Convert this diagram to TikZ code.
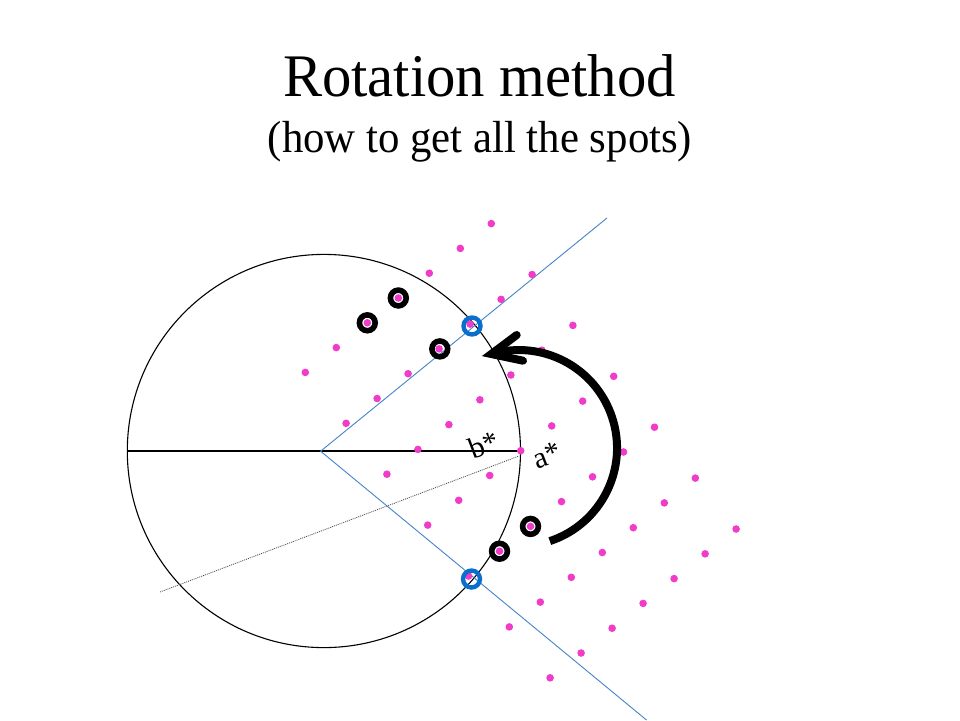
\documentclass[tikz,border=0pt]{standalone}
\usepackage{fontspec}
\setmainfont{Liberation Serif}
\definecolor{spotpink}{RGB}{240,60,200}
\definecolor{ringblue}{RGB}{10,110,205}
\definecolor{lineblue}{RGB}{70,130,200}
\tikzset{
  spot/.style={fill=spotpink},
  bline/.style={draw=lineblue, line width=0.9pt},
  dotline/.style={draw=black!70, line width=0.8pt, dash pattern=on 1pt off 1pt},
  blackring/.style={draw=black, line width=5.6pt},
  bluering/.style={draw=ringblue, line width=4.4pt},
  thickarrow/.style={draw=black, line width=8pt},
  lbl/.style={font=\fontsize{30}{32}\selectfont, rotate=21, inner sep=0pt}
}
\begin{document}
\begin{tikzpicture}[x=1pt,y=-1pt]
\useasboundingbox (0,0) rectangle (960,720);
% titles
\node[anchor=base, font=\fontsize{58.7}{66}\selectfont] (title) at (479.5,96.7) {\scalebox{1}[1.03]{Rotation method}};
\node[anchor=base, font=\fontsize{42.8}{50}\selectfont] (subtitle) at (480,152) {\scalebox{1}[1.05]{(how to get all the spots)}};
% circle
\coordinate (C) at (323.9,451);
\draw[line width=1.1pt] (C) circle (196.6pt);
% horizontal line
\coordinate (hl) at (127.3,451);
\coordinate (hr) at (520.7,451);
\draw[line width=1.4pt] (hl) -- (hr);
% blue lines
\coordinate (apex) at (320.6,451.2);
\coordinate (uend) at (607,218);
\coordinate (lend) at (646.5,720);
\draw[bline] (uend) -- (apex) -- (lend);
% dotted line
\coordinate (dl) at (160,592);
\coordinate (dr) at (519,456);
\draw[dotline] (dl) -- (dr);
% lattice spots
\foreach \i in {-3,...,3}{
  \foreach \k in {-3,...,3}{
    \fill[spot] ({520.7+40.8*\i+31*\k},{450.7+50.9*\i-24.8*\k}) circle (3.8pt);
  }
}
% rings
\draw[blackring] (367.3,322.8) circle (7.9pt);
\draw[blackring] (398.3,298) circle (7.9pt);
\draw[blackring] (439.8,348.9) circle (7.9pt);
\draw[blackring] (499.5,551.2) circle (7.9pt);
\draw[blackring] (530.5,526.4) circle (7.9pt);
\draw[bluering] (472,326) circle (8.5pt);
\draw[bluering] (471.5,579) circle (8.5pt);
% rotation arrow
\coordinate (arcstart) at (549.8,541.1);
\coordinate (tip) at (491.3,354);
\coordinate (arm1) at (516.7,335);
\coordinate (arm2) at (523,360.7);
\draw[thickarrow] (arcstart) arc[start angle=71.7, end angle=-106.4, radius=98];
\draw[thickarrow, line join=miter, line cap=round] (arm1) -- (tip) -- (arm2);
% labels
\node[lbl] (bstar) at (484,445) {b*};
\node[lbl] (astar) at (547,455) {a*};
\end{tikzpicture}
\end{document}
